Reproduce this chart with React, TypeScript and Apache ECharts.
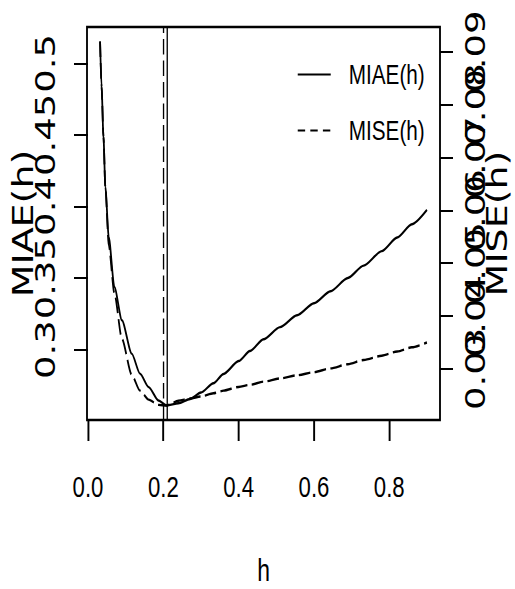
import React, { useEffect, useRef } from "react";
import * as echarts from "echarts";

// Bandwidth grid and the two error criteria evaluated on it
const hGrid = [
  0.032, 0.036, 0.041, 0.046, 0.055, 0.07, 0.09, 0.116, 0.138, 0.161, 0.187, 0.209,
  0.24, 0.271, 0.3, 0.333, 0.36, 0.4, 0.43, 0.466, 0.51, 0.555, 0.6, 0.644, 0.69, 0.732,
  0.78, 0.821, 0.86, 0.9,
];
const miae = [
  0.5152, 0.4836, 0.4487, 0.4137, 0.3787, 0.3438, 0.3205, 0.2972, 0.2832, 0.2738, 0.2645, 0.261,
  0.2625, 0.2655, 0.27, 0.2765, 0.283, 0.292, 0.299, 0.3072, 0.3157, 0.324, 0.3324, 0.3408, 0.35,
  0.3587, 0.3688, 0.3783, 0.3876, 0.3976,
];
const mise = [
  0.0919, 0.0834, 0.0739, 0.0644, 0.0534, 0.0443, 0.0357, 0.0289, 0.0259, 0.0242, 0.0232, 0.0231,
  0.024, 0.0244, 0.0248, 0.0254, 0.0259, 0.0266, 0.027, 0.0276, 0.0282, 0.0288, 0.0294, 0.0301,
  0.0309, 0.0317, 0.0325, 0.0333, 0.0341, 0.035,
];

// Minimising bandwidths (vertical reference lines)
const hOptMiae = 0.211;
const hOptMise = 0.2;

// Tick positions
const xTicks = [0, 0.2, 0.4, 0.6, 0.8];
const miaeTicks = [0.3, 0.35, 0.4, 0.45, 0.5];
const miseTicks = [0.03, 0.04, 0.05, 0.06, 0.07, 0.08, 0.09];

// R-style axis limits: data range widened by 4% on each side
const padRange = (v: number[]): [number, number] => {
  const lo = Math.min(...v);
  const hi = Math.max(...v);
  const d = (hi - lo) * 0.04;
  return [lo - d, hi + d];
};

// The chart is laid out wide and squeezed horizontally for a condensed look
const SQUEEZE = 0.74;
const PAGE_W = 515;
const PAGE_H = 589;
const W = PAGE_W / SQUEEZE;
const px = (x: number) => x / SQUEEZE;

const FONT = "Liberation Sans, Arial, Helvetica, sans-serif";
const FONT_WIDE = "DejaVu Sans, Verdana, sans-serif";
const DASH = [15.5, 6];
const LEGEND_DASH = [10, 7];

export default function App() {
  const ref = useRef<HTMLDivElement | null>(null);

  useEffect(() => {
    if (!ref.current) return;
    const chart = echarts.init(ref.current, null, { renderer: "svg" });
    const xLim = padRange(hGrid);
    const yLim = padRange(miae);
    const y2Lim = padRange(mise);
    const gridLeft = px(87);
    const gridRight = px(440);

    const text = (size: number, family = FONT) => ({
      color: "#000",
      fontFamily: family,
      fontSize: size,
      lineHeight: size,
    });

    // Right-hand MISE axis; its labels are split over two stacked copies
    // (alternate ticks) so that every label is kept even though they overlap.
    const miseAxis = (labels: number[], withTicks: boolean, withName: boolean) => ({
      type: "value",
      position: "right",
      offset: 0,
      min: y2Lim[0],
      max: y2Lim[1],
      axisLine: { show: false },
      splitLine: { show: false },
      axisTick: {
        show: withTicks,
        customValues: miseTicks,
        length: px(13),
        lineStyle: { color: "#000", width: 2 },
      },
      axisLabel: {
        customValues: labels,
        hideOverlap: false,
        showMinLabel: true,
        showMaxLabel: true,
        rotate: 90,
        formatter: (v: number) => String(v),
        verticalAlign: "middle",
        margin: px(476) - px(440),
        ...text(37, FONT_WIDE),
      },
      name: withName ? "MISE(h)" : "",
      nameLocation: "middle",
      nameMoveOverlap: false,
      nameGap: px(497) - px(440),
      nameTextStyle: { ...text(38, FONT_WIDE), verticalAlign: "middle" },
    });

    chart.setOption({
      animation: false,
      backgroundColor: "#fff",
      grid: {
        left: gridLeft,
        top: 27,
        width: gridRight - gridLeft,
        height: 393,
        containLabel: false,
        outerBoundsMode: "none",
        show: true,
        borderColor: "#000",
        borderWidth: 2.5,
        backgroundColor: "transparent",
      },
      legend: {
        orient: "vertical",
        left: px(297),
        top: 60.5,
        padding: 0,
        itemWidth: px(330) - px(297),
        itemHeight: 20,
        itemGap: 28,
        selectedMode: false,
        itemStyle: { opacity: 0, borderWidth: 0 },
        textStyle: { ...text(28), padding: [0, 0, 0, px(348) - px(330) - 5] },
        data: [
          { name: "MIAE(h)" },
          { name: "MISE(h)", lineStyle: { type: LEGEND_DASH } },
        ],
      },
      xAxis: {
        type: "value",
        min: xLim[0],
        max: xLim[1],
        axisLine: { show: false },
        splitLine: { show: false },
        axisTick: {
          customValues: xTicks,
          length: 21,
          lineStyle: { color: "#000", width: 2.6 },
        },
        axisLabel: {
          customValues: xTicks,
          hideOverlap: false,
          formatter: (v: number) => v.toFixed(1),
          verticalAlign: "middle",
          margin: 67,
          ...text(30),
        },
        name: "h",
        nameLocation: "middle",
        nameMoveOverlap: false,
        nameGap: 150,
        nameTextStyle: { ...text(31), verticalAlign: "middle" },
      },
      yAxis: [
        {
          type: "value",
          position: "left",
          min: yLim[0],
          max: yLim[1],
          axisLine: { show: false },
          splitLine: { show: false },
          axisTick: {
            customValues: miaeTicks,
            length: px(14),
            lineStyle: { color: "#000", width: 2 },
          },
          axisLabel: {
            customValues: miaeTicks,
            hideOverlap: false,
            showMinLabel: true,
            showMaxLabel: true,
            rotate: 90,
            formatter: (v: number) => String(v),
            verticalAlign: "middle",
            margin: px(87) - px(46),
            ...text(37, FONT_WIDE),
          },
          name: "MIAE(h)",
          nameLocation: "middle",
          nameMoveOverlap: false,
          nameGap: px(87) - px(23),
          nameTextStyle: { ...text(38, FONT_WIDE), verticalAlign: "middle" },
        },
        miseAxis(miseTicks.filter((_, i) => i % 2 === 0), true, true),
        miseAxis(miseTicks.filter((_, i) => i % 2 === 1), false, false),
      ],
      series: [
        {
          name: "MIAE(h)",
          type: "line",
          xAxisIndex: 0,
          yAxisIndex: 0,
          data: hGrid.map((h, i) => [h, miae[i]]),
          symbol: "none",
          smooth: 0.25,
          smoothMonotone: "x",
          itemStyle: { color: "#000" },
          lineStyle: { color: "#000", width: 2.4, type: "solid" },
          emphasis: { disabled: true },
          markLine: {
            silent: true,
            symbol: "none",
            label: { show: false },
            lineStyle: { color: "#000", width: 1.8 },
            data: [
              { xAxis: hOptMiae, lineStyle: { type: "solid", color: "#000", width: 1.8 } },
              { xAxis: hOptMise, lineStyle: { type: DASH, color: "#000", width: 1.8 } },
            ],
          },
        },
        {
          name: "MISE(h)",
          type: "line",
          xAxisIndex: 0,
          yAxisIndex: 1,
          data: hGrid.map((h, i) => [h, mise[i]]),
          symbol: "none",
          smooth: 0.25,
          smoothMonotone: "x",
          itemStyle: { color: "#000" },
          lineStyle: { color: "#000", width: 2.4, type: DASH },
          emphasis: { disabled: true },
        },
      ],
    });

    return () => chart.dispose();
  }, []);

  return (
    <div
      style={{
        position: "fixed",
        left: 0,
        top: 0,
        width: PAGE_W,
        height: PAGE_H,
        overflow: "hidden",
        background: "#fff",
      }}
    >
      <div
        ref={ref}
        style={{
          width: W,
          height: PAGE_H,
          transform: `scaleX(${SQUEEZE})`,
          transformOrigin: "0 0",
        }}
      />
    </div>
  );
}
